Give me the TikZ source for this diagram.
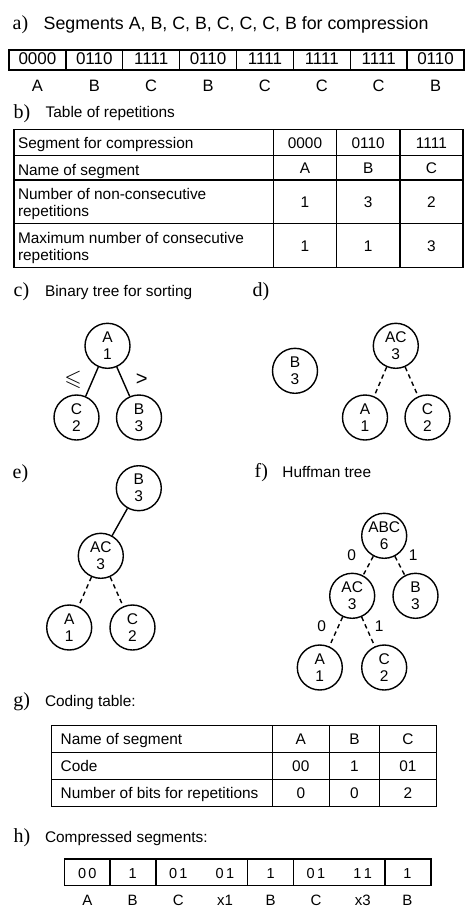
\documentclass[tikz,border=0pt]{standalone}
\usepackage{amssymb}
\usepackage{fontspec}
\setmainfont{Liberation Sans}
\newfontfamily\serifl{Liberation Serif}
\newcommand\fsz[1]{\fontsize{#1}{#1}\selectfont}
\begin{document}
\begin{tikzpicture}[x=1pt,y=-1pt,line width=1.4pt,
  lab/.style={font=\serifl\fsz{20}, anchor=base west, inner sep=0pt},
  ttl/.style={font=\fsz{15.4}, anchor=base west, inner sep=0pt},
  txt/.style={font=\fsz{15.4}, anchor=base, inner sep=0pt},
  txtl/.style={txt, anchor=base west},
  circ/.style={circle, draw, minimum size=45pt, inner sep=0pt, align=center, font=\fontsize{15.5}{17}\selectfont},
  elab/.style={font=\fsz{15.5}, inner sep=0pt},
  dsh/.style={dash pattern=on 4.5pt off 3.5pt}]
\useasboundingbox (0,0) rectangle (474,913);

% ---------- a)
\node[lab] (ta) at (12,29) {a)};
\node[font=\fsz{17.8}, anchor=base west, inner sep=0pt] (tta) at (43,29) {Segments A, B, C, B, C, C, C, B for compression};
\draw (9,50) rectangle (464,70);
\foreach \i in {1,...,7} \draw ({9+56.875*\i},50) -- ({9+56.875*\i},70);
\foreach \t/\l [count=\i] in {0000/A,0110/B,1111/C,0110/B,1111/C,1111/C,1111/C,0110/B} {
  \node[font=\fsz{17}, anchor=base, inner sep=0pt] (sa\i) at ({9+56.875*(\i-0.5)},64.3) {\t};
  \node[font=\fsz{16.5}, anchor=base, inner sep=0pt] (la\i) at ({9+56.875*(\i-0.5)},91.7) {\l};
}

% ---------- b)
\node[lab] (tb) at (13,118) {b)};
\node[ttl] (ttb) at (45,117.5) {Table of repetitions};
\draw (14,129.5) rectangle (463,267.3);
\foreach \y in {155.5,180,223.3} \draw (14,\y) -- (463,\y);
\foreach \x in {273.3,336.5,399.8} \draw (\x,129.5) -- (\x,267.3);
\node[txtl] (b11) at (17.3,148.5) {Segment for compression};
\node[txtl] (b21) at (17.3,175) {Name of segment};
\node[txtl] (b31) at (17.3,199) {Number of non-consecutive};
\node[txtl] (b32) at (17.3,216.7) {repetitions};
\node[txtl] (b41) at (17.3,243.3) {Maximum number of consecutive};
\node[txtl] (b42) at (17.3,260.5) {repetitions};
\foreach \a/\b/\c/\d/\e [count=\k] in {0000/A/1/1/305,0110/B/3/1/368.2,1111/C/2/3/431.4} {
  \node[txt] (bv1\k) at (\e,148.5) {\a};
  \node[txt] (bv2\k) at (\e,173.5) {\b};
  \node[txt] (bv3\k) at (\e,207.3) {\c};
  \node[txt] (bv4\k) at (\e,251) {\d};
}

% ---------- c)
\node[lab] (tc) at (13,296.7) {c)};
\node[ttl] (ttc) at (44.3,296.7) {Binary tree for sorting};
\node[circ] (cA) at (107.5,345.8) {A\\1};
\node[circ] (cC) at (76.5,417.5) {C\\2};
\node[circ] (cB) at (139,417.5) {B\\3};
\draw (cA) -- (cC);
\draw (cA) -- (cB);
\node[elab, scale=1.45] (cle) at (73,380) {$\leqslant$};
\node[elab, scale=1.3] (cgt) at (141.7,380) {>};

% ---------- d)
\node[lab] (td) at (252,296.7) {d)};
\node[circ] (dB) at (295,370.8) {B\\3};
\node[circ] (dAC) at (395.8,345.8) {AC\\3};
\node[circ] (dA) at (365,417.5) {A\\1};
\node[circ] (dC) at (427.5,417.5) {C\\2};
\draw[dsh] (dAC) -- (dA);
\draw[dsh] (dAC) -- (dC);

% ---------- e)
\node[lab] (te) at (12,478) {e)};
\node[circ] (eB) at (138.8,488.2) {B\\3};
\node[circ] (eAC) at (100.8,555.8) {AC\\3};
\node[circ] (eA) at (69.2,627.5) {A\\1};
\node[circ] (eC) at (132.5,627.5) {C\\2};
\draw (eB) -- (eAC);
\draw[dsh] (eAC) -- (eA);
\draw[dsh] (eAC) -- (eC);

% ---------- f)
\node[lab] (tf) at (254,477) {f)};
\node[ttl] (ttf) at (281.7,477) {Huffman tree};
\node[circ] (fABC) at (384.2,535.8) {ABC\\6};
\node[circ] (fAC) at (352.2,595.8) {AC\\3};
\node[circ] (fB) at (415.5,595.8) {B\\3};
\node[circ] (fA) at (319.8,667.5) {A\\1};
\node[circ] (fC) at (384.2,667.5) {C\\2};
\draw[dsh] (fABC) -- (fAC);
\draw[dsh] (fABC) -- (fB);
\draw[dsh] (fAC) -- (fA);
\draw[dsh] (fAC) -- (fC);
\node[elab] (f0a) at (351.7,555) {0};
\node[elab] (f1a) at (413.3,555) {1};
\node[elab] (f0b) at (321.7,626) {0};
\node[elab] (f1b) at (379.3,626) {1};

% ---------- g)
\node[lab] (tg) at (12.7,706) {g)};
\node[ttl] (ttg) at (44.3,706) {Coding table:};
\draw (51.7,725.7) rectangle (436.3,806.3);
\foreach \y in {752.3,779.3} \draw (51.7,\y) -- (436.3,\y);
\foreach \x in {272.3,329.3,379.5} \draw (\x,725.7) -- (\x,806.3);
\node[txtl] (g11) at (60,744.5) {Name of segment};
\node[txtl] (g21) at (60,771.3) {Code};
\node[txtl] (g31) at (60,798.3) {Number of bits for repetitions};
\foreach \a/\b/\c/\e [count=\k] in {A/00/0/300.8,B/1/0/354.4,C/01/2/407.9} {
  \node[txt] (gv1\k) at (\e,744.5) {\a};
  \node[txt] (gv2\k) at (\e,771.3) {\b};
  \node[txt] (gv3\k) at (\e,798.3) {\c};
}

% ---------- h)
\node[lab] (th) at (13,842.7) {h)};
\node[ttl] (tth) at (44.3,842.7) {Compressed segments:};
\draw (64.3,859) rectangle (431,885.7);
\foreach \x in {110,156,247.7,293.3,385} \draw (\x,859) -- (\x,885.7);
\foreach \t/\l/\x [count=\k] in {0\,0/A/87.3,1/B/132.7,0\,1/C/178.3,0\,1/x1/225,1/B/270.7,0\,1/C/316,1\,1/x3/362.7,1/B/407.3} {
  \node[font=\fsz{14.5}, anchor=base, inner sep=0pt] (hs\k) at (\x,878.5) {\t};
  \node[font=\fsz{15}, anchor=base, inner sep=0pt] (hl\k) at (\x,905.5) {\l};
}
\end{tikzpicture}
\end{document}
